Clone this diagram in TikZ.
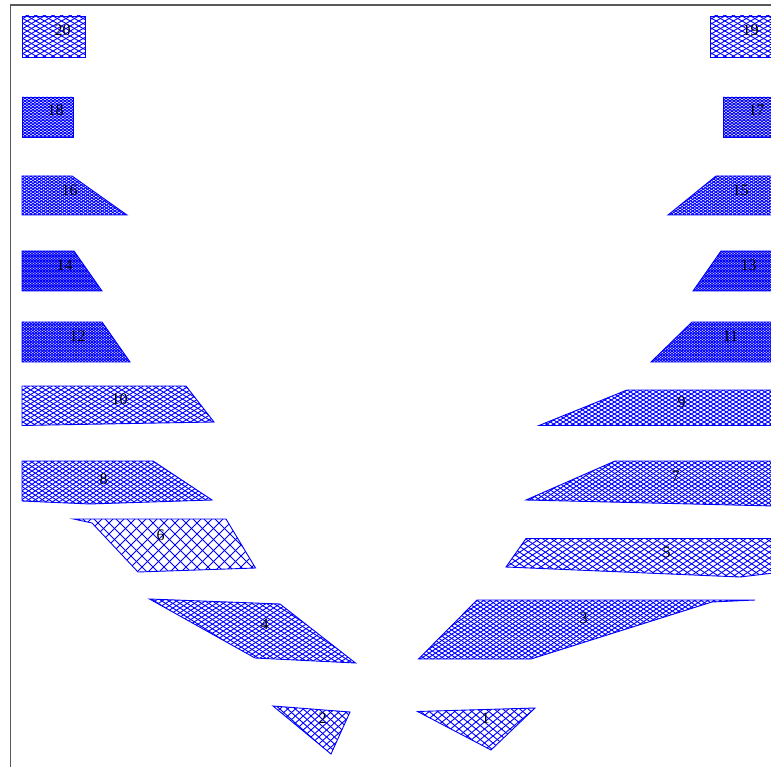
\documentclass[tikz,border=0pt]{standalone}
\usepackage{fontspec}
\setmainfont{Liberation Serif}
\tikzset{
  meshline/.style={draw=blue,line width=0.9pt},
  outline/.style={draw=blue,line width=0.9pt},
  lab/.style={inner sep=0pt,font=\fontsize{16}{16}\selectfont,text=black},
  framel/.style={draw=black!65,line width=1.1pt}
}
% #1 polygon, #2 x period, #3 y period, #4 xc, #5 yc, #6 half width, #7 half height
\newcommand\meshpoly[7]{%
  \begin{scope}
    \clip #1;
    \pgfmathsetmacro\hx{(#7)*(#2)/(#3)}
    \pgfmathtruncatemacro\kk{((#6)+\hx)/(#2)+2}
    \foreach \k in {-\kk,...,\kk}{
      \pgfmathsetmacro\xx{#4+\k*(#2)}
      \draw[meshline] (\xx-\hx,#5-#7) -- (\xx+\hx,#5+#7);
      \draw[meshline] (\xx+\hx,#5-#7) -- (\xx-\hx,#5+#7);
    }
  \end{scope}
  \draw[outline] #1;
}
\begin{document}
\begin{tikzpicture}[x=1pt,y=-1pt]
\useasboundingbox (0,0) rectangle (771,767);
\fill[white] (0,0) rectangle (771,767);
\coordinate (fa) at (10.5,770);
\coordinate (fb) at (10.5,5);
\coordinate (fc) at (774,5);
\draw[framel] (fa) -- (fb) -- (fc);
\meshpoly{(22,16)--(85,16)--(85,57)--(22,57)--cycle}{8.6}{5}{53}{36}{32}{21}
\meshpoly{(710,16)--(774,16)--(774,57)--(710,57)--cycle}{8.6}{5}{742}{36}{32}{21}
\meshpoly{(22,97)--(73,97)--(73,137)--(22,137)--cycle}{4}{2.9}{47}{117}{26}{20}
\meshpoly{(723,97)--(774,97)--(774,137)--(723,137)--cycle}{4}{2.9}{748}{117}{26}{20}
\meshpoly{(22,176)--(72,176)--(127,215)--(22,215)--cycle}{4.2}{2.9}{75}{195}{53}{20}
\meshpoly{(716,176)--(774,176)--(774,215)--(668,215)--cycle}{4.2}{2.9}{720}{195}{53}{20}
\meshpoly{(22,251)--(74,251)--(102,291)--(22,291)--cycle}{3}{2.5}{62}{271}{40}{20}
\meshpoly{(721,251)--(774,251)--(774,291)--(693,291)--cycle}{3}{2.5}{733}{271}{40}{20}
\meshpoly{(22,322)--(102,322)--(130,362)--(22,362)--cycle}{3.2}{2.6}{76}{342}{54}{20}
\meshpoly{(692,322)--(774,322)--(774,362)--(651,362)--cycle}{3.2}{2.6}{712}{342}{61}{20}
\meshpoly{(22,386)--(186,386)--(214,422)--(22,425.5)--cycle}{7.6}{4.6}{118}{406}{96}{20}
\meshpoly{(627,390)--(774,390)--(774,425.5)--(539,425.5)--cycle}{6.4}{4}{656}{408}{118}{18}
\meshpoly{(22,461)--(153,461)--(212,500)--(90,504)--(22,501)--cycle}{6.8}{4.4}{117}{482}{95}{22}
\meshpoly{(526,500)--(615,461)--(774,461)--(774,506)--cycle}{6.4}{4.2}{650}{484}{124}{23}
\meshpoly{(73.5,519)--(226,519)--(255.5,568)--(138,572)--(92,523)--cycle}{11}{11}{164}{545}{92}{27}
\meshpoly{(506,567)--(526,538.5)--(774,538.5)--(774,573)--(740,577)--cycle}{8.6}{5.8}{640}{558}{134}{20}
\meshpoly{(149.5,599)--(280,604)--(355.5,663)--(255,658)--cycle}{7.2}{4.6}{252}{631}{103}{33}
\meshpoly{(418.5,659)--(477,600)--(755,600)--(712,602)--(531,659)--cycle}{6.4}{4.2}{586}{630}{169}{31}
\meshpoly{(273,706)--(350,712)--(331,754)--cycle}{7.8}{7}{311}{730}{39}{25}
\meshpoly{(417.5,711.5)--(535,708)--(491,750)--cycle}{8.5}{7}{476}{729}{60}{22}
\node[lab] (n1) at (485.5,718) {1};
\node[lab] (n2) at (322.5,718) {2};
\node[lab] (n3) at (583.5,618) {3};
\node[lab] (n4) at (264.5,624) {4};
\node[lab] (n5) at (666.5,552) {5};
\node[lab] (n6) at (160.5,535) {6};
\node[lab] (n7) at (675.5,476) {7};
\node[lab] (n8) at (103.5,479) {8};
\node[lab] (n9) at (681.5,402) {9};
\node[lab] (n10) at (119.5,399) {10};
\node[lab] (n11) at (730.5,336) {11};
\node[lab] (n12) at (77.5,336) {12};
\node[lab] (n13) at (748.5,265) {13};
\node[lab] (n14) at (64.5,265) {14};
\node[lab] (n15) at (740.5,190) {15};
\node[lab] (n16) at (69.5,190) {16};
\node[lab] (n17) at (756.5,110) {17};
\node[lab] (n18) at (55.5,110) {18};
\node[lab] (n19) at (750.5,30) {19};
\node[lab] (n20) at (62.5,30) {20};
\end{tikzpicture}
\end{document}
